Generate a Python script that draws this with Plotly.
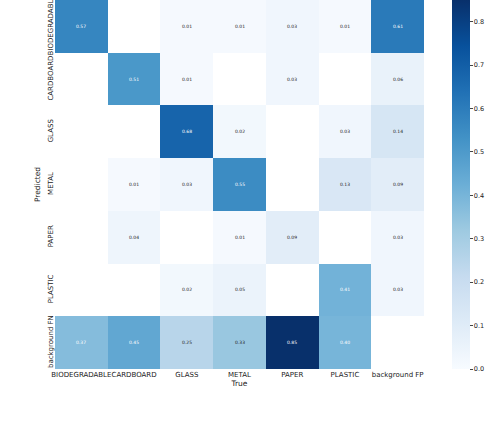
import plotly.graph_objects as go

true_labels = ["BIODEGRADABLE", "CARDBOARD", "GLASS", "METAL", "PAPER", "PLASTIC", "background FP"]
pred_labels = ["BIODEGRADABLE", "CARDBOARD", "GLASS", "METAL", "PAPER", "PLASTIC", "background FN"]

N = None
matrix = [
    [0.57, N, 0.01, 0.01, 0.03, 0.01, 0.61],
    [N, 0.51, 0.01, N, 0.03, N, 0.06],
    [N, N, 0.68, 0.02, N, 0.03, 0.14],
    [N, 0.01, 0.03, 0.55, N, 0.13, 0.09],
    [N, 0.04, N, 0.01, 0.09, N, 0.03],
    [N, N, 0.02, 0.05, N, 0.41, 0.03],
    [0.37, 0.45, 0.25, 0.33, 0.85, 0.40, N],
]

blues = ['rgb(247,251,255)', 'rgb(222,235,247)', 'rgb(198,219,239)', 'rgb(158,202,225)',
         'rgb(107,174,214)', 'rgb(66,146,198)', 'rgb(33,113,181)', 'rgb(8,81,156)', 'rgb(8,48,107)']
cscale = [[i / 8, c] for i, c in enumerate(blues)]

fig = go.Figure(go.Heatmap(
    z=matrix, x=true_labels, y=pred_labels,
    colorscale=cscale, zmin=0, zmax=0.85, xgap=0, ygap=0,
    hoverongaps=False,
    colorbar=dict(
        x=1.076, xanchor="left", y=0, yanchor="bottom", len=1, lenmode="fraction",
        thickness=18, outlinewidth=0, ticks="outside", ticklen=3, tickwidth=1,
        tickvals=[0, 0.1, 0.2, 0.3, 0.4, 0.5, 0.6, 0.7, 0.8],
        tickformat=".1f", ypad=0, xpad=0,
        tickfont=dict(family="DejaVu Sans", size=6.5, color="#222"),
    ),
))

annotations = []
for i, row in enumerate(matrix):
    for j, v in enumerate(row):
        if v is None:
            continue
        annotations.append(dict(
            x=true_labels[j], y=pred_labels[i], xref="x", yref="y",
            text=f"{v:.2f}", showarrow=False,
            font=dict(family="DejaVu Sans", size=4.5, color="white" if v > 0.36 else "#222"),
        ))

fig.update_layout(
    width=486, height=422,
    margin=dict(l=55, r=62, t=0, b=53, autoexpand=False),
    plot_bgcolor="white", paper_bgcolor="white",
    annotations=annotations,
    xaxis=dict(
        title=dict(text="True", font=dict(family="DejaVu Sans", size=7.5, color="#222"), standoff=0),
        tickfont=dict(family="DejaVu Sans", size=7, color="#222"),
        tickangle=0, showgrid=False, zeroline=False, ticks="", ticklen=0, automargin=False,
    ),
    yaxis=dict(
        title=dict(text="Predicted", font=dict(family="DejaVu Sans", size=7.5, color="#222"), standoff=4),
        tickfont=dict(family="DejaVu Sans", size=7, color="#222"),
        tickangle=-90, autorange="reversed", showgrid=False, zeroline=False, ticks="", automargin=False,
    ),
)

fig.write_html(
    "out.html",
    config={"displayModeBar": False},
    post_script="document.body.style.margin='0';document.body.style.padding='0';",
)
